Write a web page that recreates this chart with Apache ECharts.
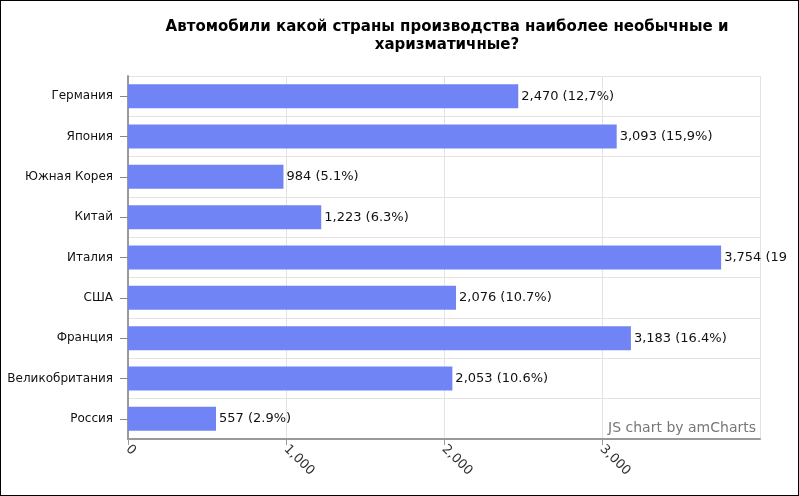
<!DOCTYPE html>
<html>
<head>
<meta charset="utf-8">
<script src="https://cdn.jsdelivr.net/npm/echarts@6/dist/echarts.min.js"></script>
<style>
html,body{margin:0;padding:0;background:#fff;}
#c{width:799px;height:496px;box-sizing:border-box;border:1px solid #000;}
</style>
</head>
<body>
<div id="c"></div>
<script>
const titleText = "Автомобили какой страны производства наиболее необычные и\nхаризматичные?";
const categories = ["Германия","Япония","Южная Корея","Китай","Италия","США","Франция","Великобритания","Россия"];
const values = [2470,3093,984,1223,3754,2076,3183,2053,557];
const valueLabels = ["2,470 (12,7%)","3,093 (15,9%)","984 (5.1%)","1,223 (6.3%)","3,754 (19","2,076 (10.7%)","3,183 (16.4%)","2,053 (10.6%)","557 (2.9%)"];
const xTickLabels = {0:"0",1000:"1,000",2000:"2,000",3000:"3,000"};
const watermark = "JS chart by amCharts";

const chart = echarts.init(document.getElementById('c'), null, {renderer:'canvas'});
const font = "DejaVu Sans";
chart.setOption({
  animation:false,
  textStyle:{fontFamily:font},
  title:{
    text:titleText,
    left:441, top:12, textAlign:'center',
    textStyle:{fontFamily:font,fontSize:15,fontWeight:'bold',color:'#000',lineHeight:18}
  },
  grid:{left:127,right:38,top:75,bottom:56,containLabel:false},
  xAxis:{
    type:'value', min:0, max:4000, interval:1000,
    axisLine:{show:true,lineStyle:{color:'#999',width:2}},
    axisTick:{show:true,length:6,lineStyle:{color:'#999'}},
    splitLine:{show:true,lineStyle:{color:'#e3e3e3'}},
    axisLabel:{rotate:-45,showMaxLabel:false,color:'#333',fontSize:13,fontFamily:font,margin:8,
      formatter:v=>xTickLabels[v]!==undefined?xTickLabels[v]:''}
  },
  yAxis:{
    type:'category', data:categories, inverse:true,
    axisLine:{show:true,lineStyle:{color:'#999',width:2}},
    axisTick:{show:true,alignWithLabel:true,length:8,lineStyle:{color:'#888'}},
    splitLine:{show:true,lineStyle:{color:'#e3e3e3'}},
    axisLabel:{color:'#111',fontSize:12,fontFamily:font,margin:15}
  },
  series:[{
    type:'bar', data:values, barWidth:24,
    itemStyle:{color:'#7084f5'},
    label:{show:true,position:'right',distance:3,color:'#111',fontSize:13,fontFamily:font,
      formatter:p=>valueLabels[p.dataIndex]}
  }],
  graphic:[{
    type:'text', right:42, top:420,
    style:{text:watermark,fill:'#777',fontSize:14,fontFamily:font}
  }]
});
</script>
</body>
</html>
